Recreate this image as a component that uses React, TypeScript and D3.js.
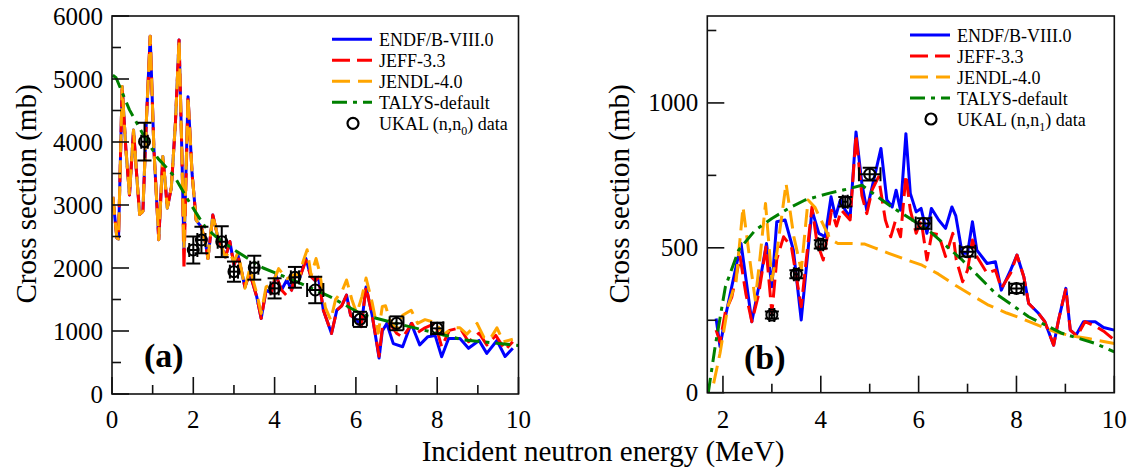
import React from "react";
import * as d3 from "d3";

// ---------- Panel (a) data: (n,n0) ----------
const endfA: [number, number][] = [
  [0.02, 3130], [0.12, 2480], [0.16, 2460], [0.25, 4880], [0.34, 3900], [0.43, 3160], [0.53, 4190],
  [0.61, 3450], [0.68, 2850], [0.76, 2900], [0.85, 4400], [0.94, 5680], [1.03, 3900], [1.15, 2450],
  [1.25, 3770], [1.31, 3350], [1.36, 2950], [1.46, 3280], [1.56, 4300], [1.65, 5620], [1.72, 3800],
  [1.77, 2300], [1.87, 4720], [1.97, 3500], [2.07, 2760], [2.2, 2650], [2.3, 2400], [2.36, 2150],
  [2.48, 2840], [2.6, 2500], [2.79, 2170], [2.9, 2420], [3.0, 2050], [3.1, 2200], [3.27, 1700],
  [3.39, 1920], [3.56, 1545], [3.67, 1200], [3.79, 1650], [3.92, 1600], [4.03, 1890], [4.17, 1650],
  [4.3, 1810], [4.42, 1650], [4.5, 1890], [4.62, 1850], [4.77, 2150], [4.89, 1870], [5.0, 1800],
  [5.08, 1850], [5.2, 1330], [5.4, 960], [5.53, 1330], [5.65, 1400], [5.77, 1570], [5.87, 1250],
  [6.02, 1175], [6.13, 1070], [6.25, 1700], [6.4, 1250], [6.57, 570], [6.65, 1000], [6.76, 1120],
  [6.92, 800], [7.15, 750], [7.36, 1120], [7.57, 780], [7.77, 910], [7.95, 930], [8.11, 590],
  [8.28, 880], [8.56, 880], [8.77, 725], [9.03, 850], [9.22, 645], [9.47, 850], [9.67, 595], [9.86, 725],
];
const jeffA: [number, number][] = [
  [0.02, 3130], [0.12, 2480], [0.16, 2460], [0.25, 4880], [0.34, 3900], [0.43, 3160], [0.53, 4190],
  [0.61, 3450], [0.68, 2850], [0.76, 2900], [0.85, 4400], [0.94, 5680], [1.03, 3900], [1.15, 2450],
  [1.25, 3770], [1.31, 3350], [1.36, 2950], [1.46, 3280], [1.56, 4300], [1.65, 5620], [1.72, 3800],
  [1.77, 1970], [1.87, 4720], [1.97, 3500], [2.07, 2760], [2.2, 2650], [2.3, 2400], [2.36, 2150],
  [2.48, 2840], [2.6, 2500], [2.79, 2170], [2.9, 2420], [3.0, 2050], [3.1, 2200], [3.27, 1700],
  [3.39, 1920], [3.56, 1545], [3.67, 1200], [3.79, 1650], [3.92, 1600], [4.03, 1890], [4.17, 1650],
  [4.3, 1560], [4.42, 1650], [4.5, 1890], [4.62, 1850], [4.77, 2120], [4.89, 1870], [5.0, 1800],
  [5.08, 1850], [5.2, 1330], [5.4, 960], [5.53, 1330], [5.65, 1400], [5.77, 1570], [5.87, 1250],
  [6.02, 1175], [6.13, 1070], [6.25, 1700], [6.4, 1250], [6.57, 600], [6.65, 1050], [6.83, 1120],
  [7.0, 966], [7.15, 900], [7.38, 1120], [7.5, 966], [7.7, 1050], [7.95, 1120], [8.11, 750],
  [8.3, 1010], [8.56, 1050], [8.77, 830], [9.03, 966], [9.22, 777], [9.44, 930], [9.67, 700], [9.86, 830],
];
const jendlA: [number, number][] = [
  [0.02, 3130], [0.12, 2480], [0.16, 2460], [0.25, 4880], [0.34, 3900], [0.43, 3160], [0.53, 4190],
  [0.61, 3450], [0.68, 2850], [0.76, 2900], [0.85, 4400], [0.94, 5680], [1.03, 3900], [1.15, 2450],
  [1.25, 3770], [1.31, 3350], [1.36, 2950], [1.46, 3280], [1.56, 4300], [1.65, 5620], [1.72, 3800],
  [1.77, 2300], [1.87, 4720], [1.97, 3500], [2.07, 2760], [2.2, 2650], [2.3, 2400], [2.36, 2150],
  [2.48, 2840], [2.6, 2500], [2.79, 2170], [2.88, 2260], [3.0, 2100], [3.1, 2250], [3.27, 1680],
  [3.39, 1990], [3.56, 1600], [3.67, 1280], [3.79, 1700], [3.95, 1750], [4.1, 1990], [4.3, 1830],
  [4.5, 1900], [4.62, 1880], [4.7, 2100], [4.8, 2290], [4.9, 1880], [5.02, 2150], [5.1, 1950],
  [5.25, 1370], [5.38, 1175], [5.5, 1500], [5.67, 1650], [5.77, 1810], [5.9, 1500], [6.02, 1280],
  [6.15, 1550], [6.25, 1840], [6.4, 1450], [6.55, 966], [6.65, 1390], [6.73, 1400], [6.83, 1180],
  [7.0, 1010], [7.15, 1250], [7.36, 1330], [7.52, 1120], [7.7, 1180], [7.86, 1150], [8.0, 1100],
  [8.15, 936], [8.37, 1050], [8.56, 1050], [8.73, 950], [8.98, 1120], [9.15, 900], [9.3, 870],
  [9.47, 1050], [9.63, 830], [9.86, 870],
];
const talysA: [number, number][] = [
  [0.02, 5060], [0.1, 5020], [0.43, 4510], [0.8, 4080], [1.13, 3740], [1.54, 3450], [1.87, 3080],
  [2.28, 2660], [2.55, 2500], [3.0, 2290], [3.72, 2000], [4.54, 1785], [5.36, 1545], [6.18, 1255],
  [7.0, 1120], [7.82, 990], [8.64, 860], [9.47, 805], [10.0, 770],
];
// [E, sigma, dSigma, dE]
const ukalA: [number, number, number, number][] = [
  [0.8, 4005, 300, 0.08], [2.0, 2286, 215, 0.1], [2.2, 2444, 210, 0.1], [2.7, 2418, 245, 0.1],
  [3.0, 1942, 160, 0.1], [3.5, 2005, 190, 0.1], [4.0, 1677, 160, 0.1], [4.5, 1852, 165, 0.1],
  [5.0, 1651, 210, 0.2], [6.1, 1185, 120, 0.17], [7.0, 1122, 110, 0.17], [8.0, 1042, 90, 0.15],
];

// ---------- Panel (b) data: (n,n1) ----------
const endfB: [number, number][] = [
  [1.86, 256], [1.94, 159], [2.05, 262], [2.18, 366], [2.37, 515], [2.59, 245], [2.76, 389],
  [2.89, 515], [3.0, 366], [3.1, 590], [3.27, 596], [3.44, 492], [3.6, 251], [3.82, 630],
  [3.96, 550], [4.09, 538], [4.21, 676], [4.3, 607], [4.4, 665], [4.5, 630], [4.6, 607],
  [4.72, 900], [4.84, 722], [4.94, 630], [5.05, 710], [5.23, 843], [5.35, 665], [5.46, 641],
  [5.54, 699], [5.63, 630], [5.74, 894], [5.83, 688], [5.95, 624], [6.05, 636], [6.17, 550],
  [6.26, 636], [6.41, 596], [6.55, 567], [6.68, 641], [6.76, 610], [6.89, 481], [7.0, 481],
  [7.1, 590], [7.19, 492], [7.4, 446], [7.57, 452], [7.69, 354], [7.88, 423], [8.01, 475],
  [8.15, 400], [8.25, 308], [8.45, 274], [8.58, 245], [8.76, 164], [8.86, 251], [9.01, 360],
  [9.1, 216], [9.22, 199], [9.37, 245], [9.61, 245], [9.78, 225], [10.0, 216],
];
const jeffB: [number, number][] = [
  [1.86, 216], [1.94, 175], [2.05, 280], [2.18, 330], [2.35, 469], [2.47, 340], [2.59, 245],
  [2.73, 340], [2.88, 503], [3.0, 274], [3.1, 460], [3.24, 538], [3.4, 503], [3.6, 297],
  [3.82, 641], [3.92, 520], [4.05, 458], [4.14, 545], [4.22, 630], [4.32, 575], [4.42, 630],
  [4.6, 596], [4.72, 890], [4.84, 680], [4.94, 618], [5.05, 700], [5.18, 745], [5.32, 596],
  [5.43, 538], [5.52, 590], [5.63, 538], [5.74, 751], [5.83, 630], [5.95, 550], [6.05, 596],
  [6.17, 458], [6.27, 550], [6.41, 545], [6.55, 470], [6.7, 550], [6.77, 458], [6.9, 383],
  [7.0, 423], [7.1, 527], [7.19, 470], [7.4, 412], [7.57, 423], [7.69, 360], [7.88, 412],
  [8.01, 475], [8.15, 400], [8.25, 308], [8.45, 274], [8.58, 245], [8.76, 164], [8.86, 251],
  [9.01, 360], [9.1, 216], [9.24, 195], [9.4, 245], [9.61, 230], [9.8, 210], [10.0, 182],
];
const jendlB: [number, number][] = [
  [1.81, 32], [1.94, 136], [2.1, 297], [2.27, 385], [2.41, 641], [2.54, 470], [2.66, 320],
  [2.76, 470], [2.87, 653], [3.0, 389], [3.1, 480], [3.29, 722], [3.45, 538], [3.6, 423],
  [3.74, 665], [3.88, 640], [4.05, 580], [4.19, 530], [4.35, 515], [4.6, 515], [4.9, 513],
  [5.1, 500], [5.39, 481], [5.7, 462], [6.07, 440], [6.4, 410], [6.75, 371], [7.1, 335],
  [7.43, 302], [7.8, 275], [8.11, 256], [8.45, 232], [8.79, 210], [9.1, 197], [9.47, 187],
  [10.0, 170],
];
const talysB: [number, number][] = [
  [1.7, 0], [1.84, 159], [2.05, 366], [2.32, 492], [2.66, 561], [3.0, 601], [3.34, 636],
  [3.68, 665], [4.16, 688], [4.5, 701], [4.84, 716], [5.05, 690], [5.46, 640], [6.2, 561],
  [6.89, 458], [7.57, 343], [8.25, 262], [8.93, 205], [9.61, 170], [10.0, 141],
];
const ukalB: [number, number, number, number][] = [
  [3.0, 268, 12, 0.05], [3.5, 409, 14, 0.05], [4.0, 512, 14, 0.05], [4.5, 659, 16, 0.05],
  [5.0, 754, 22, 0.22], [6.1, 584, 18, 0.16], [7.0, 486, 16, 0.16], [8.0, 360, 16, 0.15],
];

// ---------- ticks & labels ----------
const xMajorA = [0, 2, 4, 6, 8, 10];
const xMinorA = [1, 3, 5, 7, 9];
const yMajorA = [0, 1000, 2000, 3000, 4000, 5000, 6000];
const yMinorA = [500, 1500, 2500, 3500, 4500, 5500];
const xMajorB = [2, 4, 6, 8, 10];
const xMinorB = [3, 5, 7, 9];
const yMajorB = [0, 500, 1000];
const yMinorB = [250, 750, 1250];
const seriesNames = ["ENDF/B-VIII.0", "JEFF-3.3", "JENDL-4.0", "TALYS-default"];

const FONT = "Liberation Serif";
const COLORS = ["#0000ff", "#ff0000", "#ffa500", "#008000"];
const DASHES = ["none", "18,7", "18,8", "15,6,4,6"];

type Pt = [number, number];

function T(props: any) {
  const { size, weight, children, ...rest } = props;
  return (
    <text {...rest} fontFamily={FONT} style={{ fontFamily: FONT, fontSize: size, fontWeight: weight || "normal" }}>
      {children}
    </text>
  );
}

function Panel(props: {
  x: d3.ScaleLinear<number, number>;
  y: d3.ScaleLinear<number, number>;
  series: Pt[][];
  data: [number, number, number, number][];
  xMajor: number[];
  xMinor: number[];
  yMajor: number[];
  yMinor: number[];
  tag: string;
  tagPos: [number, number];
  legendPos: [number, number];
  sub: string;
  yLabelX: number;
  yLabelY: number;
  lw: number;
  clipId: string;
}) {
  const { x, y, series, data, xMajor, xMinor, yMajor, yMinor, tag, tagPos, legendPos, sub, yLabelX, yLabelY, lw, clipId } = props;
  const [x0, x1] = x.range();
  const [y0, y1] = y.range();
  const line = d3
    .line<Pt>()
    .x((d) => x(d[0]))
    .y((d) => y(d[1]));
  const cap = 7;
  return (
    <g>
      <defs>
        <clipPath id={clipId}>
          <rect x={x0} y={y1} width={x1 - x0} height={y0 - y1} />
        </clipPath>
      </defs>
      <g clipPath={`url(#${clipId})`}>
        {series.map((s, i) => (
          <path
            key={i}
            d={line(s) || ""}
            fill="none"
            stroke={COLORS[i]}
            strokeWidth={lw}
            strokeDasharray={DASHES[i]}
            strokeLinejoin="round"
          />
        ))}
        {data.map((d, i) => {
          const cx = x(d[0]);
          const cy = y(d[1]);
          const yt = y(d[1] + d[2]);
          const yb = y(d[1] - d[2]);
          const xl = x(d[0] - d[3]);
          const xr = x(d[0] + d[3]);
          return (
            <g key={i} stroke="#000" strokeWidth={2} fill="none">
              <line x1={cx} x2={cx} y1={yt} y2={yb} />
              <line x1={cx - cap} x2={cx + cap} y1={yt} y2={yt} />
              <line x1={cx - cap} x2={cx + cap} y1={yb} y2={yb} />
              <line x1={xl} x2={xr} y1={cy} y2={cy} />
              <line x1={xl} x2={xl} y1={cy - cap} y2={cy + cap} />
              <line x1={xr} x2={xr} y1={cy - cap} y2={cy + cap} />
              <circle cx={cx} cy={cy} r={5.5} />
            </g>
          );
        })}
      </g>
      <rect x={x0} y={y1} width={x1 - x0} height={y0 - y1} fill="none" stroke="#111" strokeWidth={1.6} />
      <g stroke="#111" strokeWidth={1.6}>
        {xMajor.map((t) => (
          <line key={"xM" + t} x1={x(t)} x2={x(t)} y1={y0} y2={y0 - 17} />
        ))}
        {xMinor.map((t) => (
          <line key={"xm" + t} x1={x(t)} x2={x(t)} y1={y0} y2={y0 - 9} />
        ))}
        {yMajor.map((t) => (
          <line key={"yM" + t} x1={x0} x2={x0 + 17} y1={y(t)} y2={y(t)} />
        ))}
        {yMinor.map((t) => (
          <line key={"ym" + t} x1={x0} x2={x0 + 9} y1={y(t)} y2={y(t)} />
        ))}
      </g>
      {xMajor.map((t) => (
        <T key={"xl" + t} x={x(t)} y={428} textAnchor="middle" size={25}>
          {t}
        </T>
      ))}
      {yMajor.map((t) => (
        <T key={"yl" + t} x={x0 - 9} y={y(t) + 8.5} textAnchor="end" size={25}>
          {t}
        </T>
      ))}
      <T transform={`translate(${yLabelX},${yLabelY}) rotate(-90)`} textAnchor="middle" size={29}>
        Cross section (mb)
      </T>
      <T x={tagPos[0]} y={tagPos[1]} size={34} weight="bold">
        {tag}
      </T>
      {seriesNames.map((n, i) => {
        const ly = legendPos[1] + i * 21;
        return (
          <g key={n}>
            <line
              x1={legendPos[0]}
              x2={legendPos[0] + 40}
              y1={ly}
              y2={ly}
              stroke={COLORS[i]}
              strokeWidth={3}
              strokeDasharray={DASHES[i]}
            />
            <T x={legendPos[0] + 47} y={ly + 6.5} size={18}>
              {n}
            </T>
          </g>
        );
      })}
      <circle cx={legendPos[0] + 21} cy={legendPos[1] + 84} r={5.5} fill="none" stroke="#000" strokeWidth={2.2} />
      <T x={legendPos[0] + 47} y={legendPos[1] + 84 + 6.5} size={18}>
        UKAL (n,n
        <tspan style={{ fontSize: 12 }} dy={5}>
          {sub}
        </tspan>
        <tspan dy={-5}>) data</tspan>
      </T>
    </g>
  );
}

export default function App() {
  const xA = d3.scaleLinear().domain([0, 10]).range([112, 518.5]);
  const yA = d3.scaleLinear().domain([0, 6000]).range([394, 16]);
  const xB = d3.scaleLinear().domain([1.68, 10]).range([707.3, 1114.3]);
  const yB = d3.scaleLinear().domain([0, 1300]).range([392.7, 16]);
  return (
    <svg
      width={1135}
      height={473}
      style={{ position: "absolute", left: 0, top: 0, background: "#fff", fontFamily: FONT }}
    >
      <rect width={1135} height={473} fill="#fff" />
      <Panel
        x={xA}
        y={yA}
        series={[endfA, jeffA, jendlA, talysA]}
        data={ukalA}
        xMajor={xMajorA}
        xMinor={xMinorA}
        yMajor={yMajorA}
        yMinor={yMinorA}
        tag="(a)"
        tagPos={[144, 367]}
        legendPos={[332, 39.3]}
        sub="0"
        yLabelX={36}
        yLabelY={194}
        lw={3}
        clipId="clipA"
      />
      <Panel
        x={xB}
        y={yB}
        series={[endfB, jeffB, jendlB, talysB]}
        data={ukalB}
        xMajor={xMajorB}
        xMinor={xMinorB}
        yMajor={yMajorB}
        yMinor={yMinorB}
        tag="(b)"
        tagPos={[744, 369]}
        legendPos={[910, 35]}
        sub="1"
        yLabelX={629}
        yLabelY={194}
        lw={3}
        clipId="clipB"
      />
      <T x={603} y={461} textAnchor="middle" size={29}>
        Incident neutron energy (MeV)
      </T>
    </svg>
  );
}
